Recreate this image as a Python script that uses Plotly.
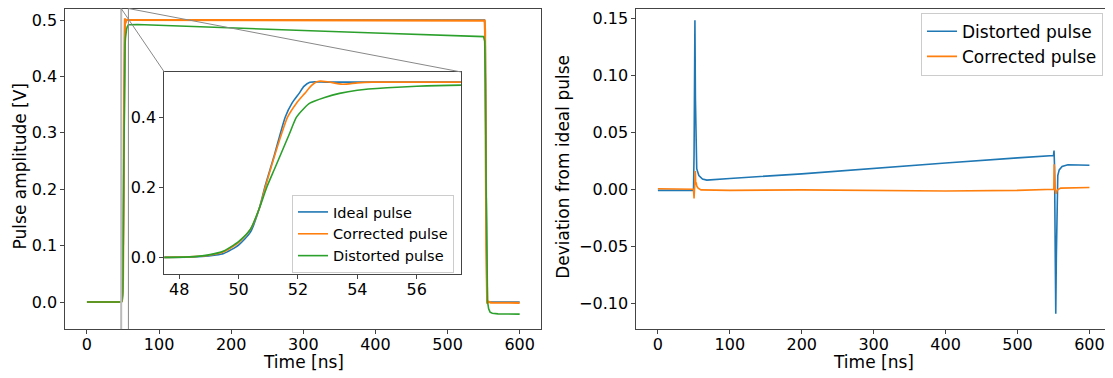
import plotly.graph_objects as go

# ---------------- data ----------------
# Left panel: pulses, time in ns, amplitude in V
t_ideal = [0, 47.5, 48.5, 49.0, 49.5, 50.0, 50.4, 50.7, 50.9, 51.2, 51.57, 51.8, 52.04, 52.2, 52.4,
           53.0, 57.5, 60.0, 540.0, 551.0, 551.5, 552.0, 552.4, 552.8, 553.1, 553.5, 553.9, 554.3, 554.6, 560, 600]
v_ideal = [0, 0, 0.001, 0.004, 0.011, 0.035, 0.072, 0.14, 0.205, 0.29, 0.4, 0.44, 0.468, 0.488, 0.5,
           0.5, 0.5, 0.5, 0.5, 0.5, 0.497, 0.485, 0.44, 0.33, 0.24, 0.12, 0.04, 0.008, 0, 0, 0]

t_corr = [0, 47.5, 48.5, 49.0, 49.5, 50.0, 50.4, 50.7, 50.9, 51.25, 51.65, 51.95, 52.23, 52.45, 52.6,
          52.75, 53.0, 53.5, 54.0, 54.5, 57.5, 60.0, 540.0, 551.0, 551.5, 552.0, 552.5, 552.9, 553.3,
          553.7, 554.1, 554.5, 555.0, 556.0, 560.0, 600]
v_corr = [0, 0, 0.002, 0.006, 0.016, 0.042, 0.08, 0.14, 0.2, 0.3, 0.4, 0.44, 0.468, 0.49, 0.5,
          0.503, 0.501, 0.494, 0.498, 0.5, 0.5, 0.5, 0.5, 0.5, 0.499, 0.48, 0.42, 0.31, 0.2,
          0.1, 0.03, 0.004, -0.003, 0.001, -0.001, -0.0015]

t_dist = [0, 47.5, 48.5, 49.0, 49.5, 50.0, 50.4, 50.7, 50.95, 51.2, 51.45, 51.7, 51.95, 52.2, 52.4,
          52.9, 53.4, 54.0, 55.0, 56.0, 57.5, 70, 100, 200, 300, 400, 500, 550,
          551.5, 552.5, 553.5, 554.5, 555.5, 557, 559, 562, 570, 600]
v_dist = [0, 0, 0.002, 0.007, 0.018, 0.045, 0.08, 0.14, 0.2, 0.25, 0.3, 0.35, 0.4, 0.425, 0.44,
          0.456, 0.468, 0.477, 0.484, 0.4885, 0.4915, 0.492, 0.4905, 0.4865, 0.4815, 0.477, 0.4725, 0.4705,
          0.462, 0.39, 0.2, 0.05, 0.0, -0.012, -0.018, -0.02, -0.021, -0.0215]

# Right panel: deviation from the ideal pulse
t_dev_dist = [0, 48, 49.5, 50.3, 51.0, 51.5, 52.2, 53.0, 54.0, 57.0, 62, 68, 100, 200, 300, 400, 500, 548,
              550.0, 550.8, 551.5, 552.5, 553.2, 554.0, 555.0, 556.0, 558.0, 562, 570, 600]
v_dev_dist = [-0.001, -0.001, -0.001, 0.03, 0.12, 0.148, 0.08, 0.03, 0.018, 0.012, 0.009, 0.008, 0.0095,
              0.0135, 0.0185, 0.023, 0.0275, 0.0293,
              0.0295, 0.034, 0.02, -0.06, -0.109, -0.06, 0.0, 0.012, 0.017, 0.02, 0.0215, 0.021]

t_dev_corr = [0, 48, 49.5, 50.3, 51.0, 51.7, 52.1, 52.6, 53.2, 54.0, 56.0, 60, 100, 200, 300, 400, 500,
              548, 550.5, 551.0, 551.6, 552.5, 553.5, 555.0, 557.0, 560, 600]
v_dev_corr = [0.0005, 0.0005, 0.0, -0.008, 0.002, 0.012, 0.016, 0.004, 0.006, 0.003, 0.001, -0.0005,
              -0.001, -0.0005, -0.001, -0.0015, -0.001,
              0.0, 0.0, 0.022, 0.0, -0.001, -0.004, -0.001, 0.0, 0.001, 0.0015]

x_ticks_main = [0, 100, 200, 300, 400, 500, 600]
y_ticks_main = [0.0, 0.1, 0.2, 0.3, 0.4, 0.5]
x_ticks_inset = [48, 50, 52, 54, 56]
y_ticks_inset = [0.0, 0.2, 0.4]
y_ticks_dev = [-0.10, -0.05, 0.0, 0.05, 0.10, 0.15]

zoom_x = [47.5, 57.5]
main_xrange = [-30, 630]
inset_yrange = [-0.0484, 0.529]
main_yrange = [-0.0484, 0.5204]
dev_yrange = [-0.1227, 0.1584]

# ---------------- layout helpers ----------------
# the page body has an 8 px margin, so the figure is placed 8 px in from the window corner
OFF = 8
W, H = 1105, 370
BLUE, ORANGE, GREEN = "#1f77b4", "#ff7f0e", "#2ca02c"
FONT = "DejaVu Sans"
AX = "#444444"


def px_x(p):
    return (p - OFF) / W


def px_y(p):
    return 1 - (p - OFF) / H


main_dom_x = [px_x(65.3), px_x(541.3)]
dev_dom_x = [px_x(636.3), px_x(1111)]
dom_y = [px_y(329.3), px_y(8.5)]
ins_dom_x = [px_x(164.3), px_x(461.3)]
ins_dom_y = [px_y(274.3), px_y(72)]

fig = go.Figure()

# main left panel
fig.add_trace(go.Scatter(x=t_ideal, y=v_ideal, mode="lines", line=dict(color=BLUE, width=1.6),
                         xaxis="x", yaxis="y", showlegend=False))
fig.add_trace(go.Scatter(x=t_corr, y=v_corr, mode="lines", line=dict(color=ORANGE, width=2.2),
                         xaxis="x", yaxis="y", showlegend=False))
fig.add_trace(go.Scatter(x=t_dist, y=v_dist, mode="lines", line=dict(color=GREEN, width=1.6),
                         xaxis="x", yaxis="y", showlegend=False))

# inset
spl = dict(width=1.6, shape="spline", smoothing=0.6)
fig.add_trace(go.Scatter(x=t_ideal, y=v_ideal, mode="lines", line=dict(color=BLUE, **spl),
                         xaxis="x3", yaxis="y3", name="Ideal pulse", legend="legend"))
fig.add_trace(go.Scatter(x=t_corr, y=v_corr, mode="lines", line=dict(color=ORANGE, **spl),
                         xaxis="x3", yaxis="y3", name="Corrected pulse", legend="legend"))
fig.add_trace(go.Scatter(x=t_dist, y=v_dist, mode="lines", line=dict(color=GREEN, **spl),
                         xaxis="x3", yaxis="y3", name="Distorted pulse", legend="legend"))

# right panel
fig.add_trace(go.Scatter(x=t_dev_dist, y=v_dev_dist, mode="lines", line=dict(color=BLUE, width=1.6),
                         xaxis="x2", yaxis="y2", name="Distorted pulse", legend="legend2"))
fig.add_trace(go.Scatter(x=t_dev_corr, y=v_dev_corr, mode="lines", line=dict(color=ORANGE, width=1.6),
                         xaxis="x2", yaxis="y2", name="Corrected pulse", legend="legend2"))

axis_common = dict(showgrid=False, zeroline=False, showline=True, linecolor=AX, linewidth=1,
                   mirror=True, ticks="outside", ticklen=4, tickcolor=AX, tickwidth=1,
                   tickfont=dict(family=FONT, size=16, color="#000000"), automargin=False)
xstand = dict(ticklabelstandoff=-4)

fig.update_layout(
    width=W, height=H,
    margin=dict(l=0, r=0, t=0, b=0),
    paper_bgcolor="white", plot_bgcolor="white",
    font=dict(family=FONT, color="#000000"),
    xaxis=dict(domain=main_dom_x, range=main_xrange, tickvals=x_ticks_main, anchor="y", **xstand,
               **axis_common),
    yaxis=dict(domain=dom_y, range=main_yrange, tickvals=y_ticks_main, tickformat=".1f", anchor="x",
               **axis_common),
    xaxis2=dict(domain=dev_dom_x, range=main_xrange, tickvals=x_ticks_main, anchor="y2", **xstand,
                **axis_common),
    yaxis2=dict(domain=dom_y, range=dev_yrange, tickvals=y_ticks_dev, tickformat=".2f", anchor="x2",
                **axis_common),
    xaxis3=dict(domain=ins_dom_x, range=zoom_x, tickvals=x_ticks_inset, anchor="y3", **xstand,
                **axis_common),
    yaxis3=dict(domain=ins_dom_y, range=inset_yrange, tickvals=y_ticks_inset, tickformat=".1f",
                anchor="x3", **axis_common),
    legend=dict(x=px_x(454), xanchor="right", y=px_y(234), yanchor="middle",
                bgcolor="rgba(255,255,255,0.8)", bordercolor="#cccccc", borderwidth=1,
                font=dict(family=FONT, size=14.5, color="#000000")),
    legend2=dict(x=px_x(1103), xanchor="right", y=px_y(12.7), yanchor="top",
                 bgcolor="rgba(255,255,255,0.8)", bordercolor="#cccccc", borderwidth=1,
                 font=dict(family=FONT, size=17, color="#000000")),
)


# zoom indication: rectangle edges in main-axis data coords, connectors to inset corners
def main_x_to_paper(xv):
    f = (xv - main_xrange[0]) / (main_xrange[1] - main_xrange[0])
    return main_dom_x[0] + f * (main_dom_x[1] - main_dom_x[0])


fig.add_shape(type="line", xref="x", yref="y", x0=zoom_x[0], x1=zoom_x[0],
              y0=main_yrange[0], y1=main_yrange[1], line=dict(color="#bbbbbb", width=2), layer="above")
fig.add_shape(type="line", xref="x", yref="y", x0=zoom_x[1], x1=zoom_x[1],
              y0=main_yrange[0], y1=main_yrange[1], line=dict(color="#888888", width=1), layer="above")
fig.add_shape(type="line", xref="paper", yref="paper", x0=main_x_to_paper(zoom_x[0]), y0=dom_y[1],
              x1=ins_dom_x[0], y1=ins_dom_y[1], line=dict(color="#888888", width=1))
fig.add_shape(type="line", xref="paper", yref="paper", x0=main_x_to_paper(zoom_x[1]), y0=dom_y[1],
              x1=ins_dom_x[1], y1=ins_dom_y[1], line=dict(color="#888888", width=1))

# axis titles
title_font = dict(family=FONT, size=17, color="#000000")
fig.add_annotation(text="Pulse amplitude [V]", x=px_x(19.6), y=px_y(166.8), xref="paper", yref="paper",
                   textangle=-90, showarrow=False, font=title_font, xanchor="center", yanchor="middle")
fig.add_annotation(text="Deviation from ideal pulse", x=px_x(563), y=px_y(166.8), xref="paper",
                   yref="paper", textangle=-90, showarrow=False, font=title_font,
                   xanchor="center", yanchor="middle")
fig.add_annotation(text="Time [ns]", x=px_x(303.3), y=px_y(362), xref="paper", yref="paper",
                   showarrow=False, font=title_font, xanchor="center", yanchor="middle")
fig.add_annotation(text="Time [ns]", x=px_x(873.7), y=px_y(362), xref="paper", yref="paper",
                   showarrow=False, font=title_font, xanchor="center", yanchor="middle")

fig.write_html("out.html")
